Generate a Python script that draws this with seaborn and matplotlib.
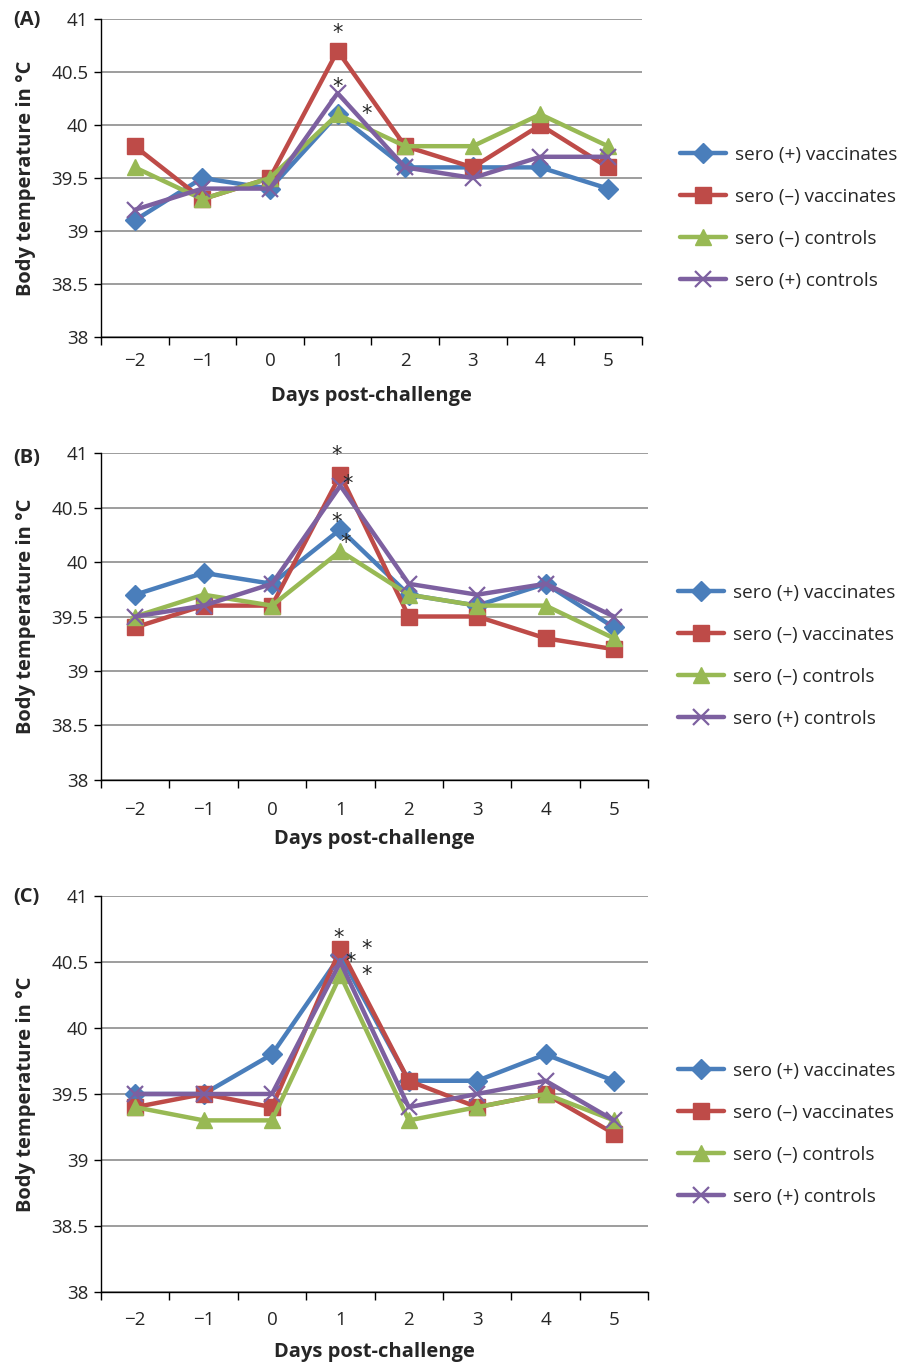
import pandas as pd
import matplotlib.pyplot as plt
import seaborn as sns

days = [-2, -1, 0, 1, 2, 3, 4, 5]
day_labels = ['\u22122', '\u22121', '0', '1', '2', '3', '4', '5']
groups = ['sero (+) vaccinates', 'sero (\u2013) vaccinates',
          'sero (\u2013) controls', 'sero (+) controls']

# panel A
a_pos_vacc = [39.1, 39.5, 39.4, 40.1, 39.6, 39.6, 39.6, 39.4]
a_neg_vacc = [39.8, 39.3, 39.5, 40.7, 39.8, 39.6, 40.0, 39.6]
a_neg_ctrl = [39.6, 39.3, 39.5, 40.1, 39.8, 39.8, 40.1, 39.8]
a_pos_ctrl = [39.2, 39.4, 39.4, 40.3, 39.6, 39.5, 39.7, 39.7]
# panel B
b_pos_vacc = [39.7, 39.9, 39.8, 40.3, 39.7, 39.6, 39.8, 39.4]
b_neg_vacc = [39.4, 39.6, 39.6, 40.8, 39.5, 39.5, 39.3, 39.2]
b_neg_ctrl = [39.5, 39.7, 39.6, 40.1, 39.7, 39.6, 39.6, 39.3]
b_pos_ctrl = [39.5, 39.6, 39.8, 40.7, 39.8, 39.7, 39.8, 39.5]
# panel C
c_pos_vacc = [39.5, 39.5, 39.8, 40.55, 39.6, 39.6, 39.8, 39.6]
c_neg_vacc = [39.4, 39.5, 39.4, 40.6, 39.6, 39.4, 39.5, 39.2]
c_neg_ctrl = [39.4, 39.3, 39.3, 40.4, 39.3, 39.4, 39.5, 39.3]
c_pos_ctrl = [39.5, 39.5, 39.5, 40.5, 39.4, 39.5, 39.6, 39.3]

# significance asterisks (day, temperature)
a_stars = [(1.0, 40.87), (1.0, 40.36), (1.43, 40.1)]
b_stars = [(0.95, 40.98), (1.11, 40.72), (0.95, 40.37), (1.08, 40.17)]
c_stars = [(0.98, 40.68), (1.38, 40.60), (1.15, 40.50), (1.38, 40.40)]

panels = [
    ('(A)', [a_pos_vacc, a_neg_vacc, a_neg_ctrl, a_pos_ctrl], a_stars),
    ('(B)', [b_pos_vacc, b_neg_vacc, b_neg_ctrl, b_pos_ctrl], b_stars),
    ('(C)', [c_pos_vacc, c_neg_vacc, c_neg_ctrl, c_pos_ctrl], c_stars),
]

colors = ['#4A7EBB', '#BE4B48', '#98B954', '#7D60A0']
markers = ['D', 's', '^', 'x']
msizes = [10, 11, 11, 12]

sns.set_style('white')
plt.rcParams['font.family'] = ['Open Sans', 'DejaVu Sans']

fig = plt.figure(figsize=(9.12, 13.65), dpi=100)
# layout per panel: axes box, legend anchor, tick pad, xlabel pad, tag y (px)
layout = [
    ([0.1107, 0.7531, 0.593, 0.2330], (1.039, 0.374), 11, 11, 20),
    ([0.1107, 0.4286, 0.600, 0.2395], (1.023, 0.379), 15, 7, 458),
    ([0.1107, 0.0535, 0.600, 0.2901], (1.023, 0.400), 14, 9, 897),
]

for (tag, series, stars), (box, leg_anchor, tpad, lpad, tag_y) in zip(panels, layout):
    ax = fig.add_axes(box)
    for g, vals, c, m, ms in zip(groups, series, colors, markers, msizes):
        df = pd.DataFrame({'day': days, 'temp': vals})
        sns.lineplot(data=df, x='day', y='temp', color=c, marker=m,
                     markersize=ms, markeredgecolor=c,
                     markeredgewidth=1.6 if m == 'x' else 1.0,
                     linewidth=3.2, label=g, ax=ax, zorder=3)
    for x, y in stars:
        ax.text(x, y, '*', ha='center', va='center', fontsize=15,
                family='DejaVu Sans', zorder=5)

    ax.set_xlim(-2.5, 5.5)
    ax.set_ylim(38, 41)
    ax.set_yticks([38, 38.5, 39, 39.5, 40, 40.5, 41])
    ax.set_yticklabels(['38', '38.5', '39', '39.5', '40', '40.5', '41'])
    ax.set_xticks(days)
    ax.set_xticklabels(day_labels)
    ax.set_xticks([d - 0.5 for d in days] + [5.5], minor=True)
    ax.tick_params(axis='x', which='major', length=0, pad=tpad, labelsize=13.5)
    ax.tick_params(axis='x', which='minor', length=6, width=1, direction='out',
                   color='black', bottom=True)
    ax.tick_params(axis='y', length=5, width=1, direction='out', color='black',
                   left=True, labelsize=13.5, pad=4)
    ax.yaxis.grid(True, color='#8C8C8C', linewidth=1.2)
    ax.xaxis.grid(False)
    ax.set_axisbelow(True)
    for s in ['top', 'right']:
        ax.spines[s].set_visible(False)
    for s in ['left', 'bottom']:
        ax.spines[s].set_color('black')
        ax.spines[s].set_linewidth(1.0)

    ax.set_xlabel('Days post-challenge', fontsize=14.5, fontweight='bold',
                  labelpad=lpad)
    ax.set_ylabel('Body temperature in \u00b0C', fontsize=14.5, fontweight='bold',
                  labelpad=11)
    fig.text(13 / 912, 1 - tag_y / 1365, tag, fontsize=14.5,
             fontweight='bold', ha='left', va='center')

    handles, labels = ax.get_legend_handles_labels()
    ax.legend(handles, labels, loc='center left', frameon=False,
              bbox_to_anchor=leg_anchor, fontsize=13.7, handlelength=2.4,
              labelspacing=1.26, handletextpad=0.5)

fig.savefig('out.png', dpi=100)
